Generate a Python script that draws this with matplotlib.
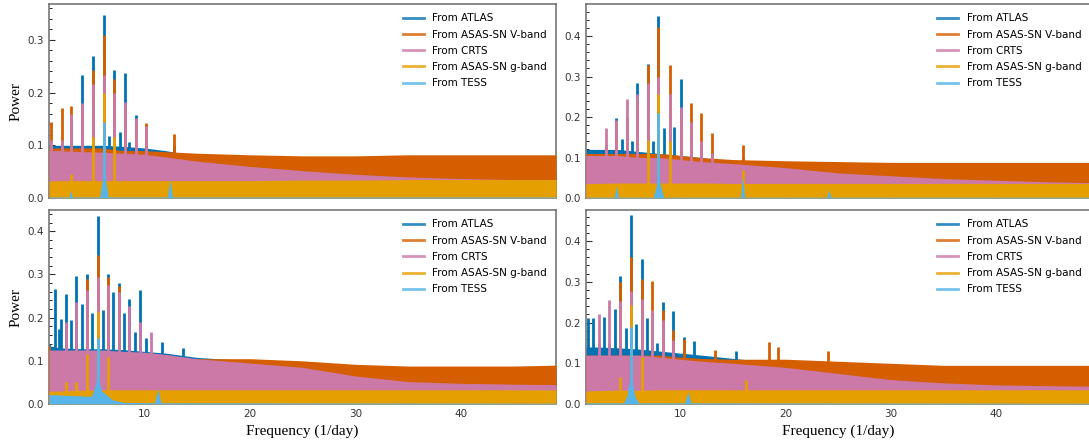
import numpy as np
import matplotlib.pyplot as plt
from matplotlib.lines import Line2D
from matplotlib.ticker import AutoMinorLocator, MultipleLocator

labels = ['From ATLAS', 'From ASAS-SN V-band', 'From CRTS', 'From ASAS-SN g-band', 'From TESS']
colors = ['#0072B2', '#D55E00', '#CC79A7', '#E69F00', '#56B4E9']

freq_grid = [1, 2, 4, 6, 8, 10, 12, 15, 20, 25, 30, 35, 40, 45, 49]

# ---- top left ----
a_atlas = [0.10, 0.10, 0.10, 0.10, 0.098, 0.095, 0.09, 0.08, 0.07, 0.06, 0.05, 0.05, 0.05, 0.05, 0.05]
a_vband = [0.095, 0.095, 0.095, 0.095, 0.09, 0.09, 0.088, 0.085, 0.082, 0.08, 0.08, 0.082, 0.082, 0.082, 0.082]
a_crts = [0.09, 0.09, 0.088, 0.087, 0.085, 0.083, 0.078, 0.07, 0.06, 0.052, 0.045, 0.04, 0.037, 0.035, 0.035]
a_gband = [0.032, 0.033, 0.033, 0.033, 0.033, 0.033, 0.033, 0.033, 0.033, 0.034, 0.034, 0.035, 0.035, 0.035, 0.035]
a_tess_f = [1, 2.9, 3.05, 3.2, 5.8, 6.05, 6.2, 6.35, 6.6, 12.2, 12.45, 12.7, 49]
a_tess_p = [0.002, 0.002, 0.015, 0.002, 0.002, 0.035, 0.06, 0.035, 0.002, 0.002, 0.035, 0.002, 0.002]
a_peak_f = [1.15, 2.2, 3.1, 4.1, 5.15, 6.2, 6.7, 7.2, 7.7, 8.2, 8.6, 9.2, 10.2, 12.8]
a_peak_atlas = [0.10, 0.10, 0.10, 0.233, 0.27, 0.347, 0.118, 0.243, 0.126, 0.238, 0.107, 0.157, 0.10, 0.10]
a_peak_vband = [0.145, 0.17, 0.175, 0.17, 0.242, 0.309, 0, 0.225, 0, 0.17, 0, 0.14, 0.143, 0.121]
a_peak_crts = [0.11, 0.11, 0.16, 0.18, 0.216, 0.233, 0, 0.20, 0, 0.183, 0, 0.151, 0.137, 0]
a_peak_gband = [0, 0, 0.045, 0, 0.116, 0.20, 0, 0.116, 0, 0, 0, 0, 0, 0]
a_peak_tess = [0, 0, 0, 0, 0, 0.145, 0, 0, 0, 0, 0, 0, 0, 0]

# ---- top right ----
b_atlas = [0.12, 0.12, 0.12, 0.115, 0.11, 0.105, 0.10, 0.09, 0.08, 0.07, 0.06, 0.06, 0.06, 0.06, 0.06]
b_vband = [0.11, 0.11, 0.11, 0.11, 0.11, 0.105, 0.10, 0.095, 0.092, 0.09, 0.088, 0.088, 0.088, 0.088, 0.088]
b_crts = [0.105, 0.105, 0.105, 0.10, 0.10, 0.095, 0.09, 0.085, 0.075, 0.062, 0.055, 0.048, 0.044, 0.04, 0.038]
b_gband = [0.035, 0.036, 0.037, 0.037, 0.037, 0.037, 0.037, 0.036, 0.036, 0.036, 0.036, 0.036, 0.036, 0.036, 0.036]
b_tess_f = [1, 3.7, 3.9, 4.1, 7.4, 7.7, 7.9, 8.1, 8.4, 15.7, 15.9, 16.1, 23.9, 24.1, 24.3, 49]
b_tess_p = [0.002, 0.002, 0.03, 0.002, 0.002, 0.03, 0.06, 0.03, 0.002, 0.002, 0.053, 0.002, 0.002, 0.02, 0.002, 0.002]
b_peak_f = [2.9, 3.9, 4.4, 4.9, 5.4, 5.9, 6.9, 7.4, 7.9, 8.4, 9.0, 9.4, 10.0, 10.95, 11.95, 13.0, 15.9]
b_peak_atlas = [0.13, 0.198, 0.145, 0.14, 0.14, 0.283, 0.331, 0.14, 0.449, 0.174, 0.14, 0.175, 0.294, 0.12, 0.12, 0.11, 0.10]
b_peak_vband = [0.13, 0.19, 0, 0.20, 0, 0.24, 0.328, 0, 0.423, 0, 0.328, 0, 0.20, 0.235, 0.211, 0.161, 0.13]
b_peak_crts = [0.172, 0.193, 0, 0.245, 0, 0.256, 0.285, 0, 0.30, 0, 0.258, 0, 0.224, 0.188, 0.14, 0.11, 0]
b_peak_gband = [0, 0, 0, 0, 0, 0, 0.143, 0, 0.256, 0, 0.14, 0, 0, 0, 0, 0, 0.07]
b_peak_tess = [0, 0, 0, 0, 0, 0, 0, 0, 0.21, 0, 0, 0, 0, 0, 0, 0, 0]

# ---- bottom left ----
c_atlas = [0.135, 0.13, 0.128, 0.128, 0.126, 0.122, 0.118, 0.108, 0.10, 0.09, 0.08, 0.07, 0.07, 0.07, 0.07]
c_vband = [0.11, 0.11, 0.11, 0.11, 0.11, 0.11, 0.108, 0.105, 0.105, 0.10, 0.092, 0.088, 0.088, 0.088, 0.09]
c_crts = [0.125, 0.125, 0.125, 0.125, 0.122, 0.12, 0.115, 0.105, 0.095, 0.085, 0.065, 0.052, 0.048, 0.046, 0.045]
c_gband = [0.03, 0.03, 0.032, 0.033, 0.033, 0.033, 0.033, 0.033, 0.033, 0.033, 0.033, 0.033, 0.033, 0.033, 0.033]
c_tess_f = [1, 3, 5, 5.2, 5.45, 5.6, 5.75, 6.0, 7, 8, 11.0, 11.3, 11.6, 49]
c_tess_p = [0.022, 0.02, 0.018, 0.03, 0.05, 0.08, 0.05, 0.03, 0.01, 0.004, 0.003, 0.035, 0.003, 0.002]
c_peak_f = [1.0, 1.6, 1.95, 2.1, 2.6, 3.1, 3.6, 4.1, 4.6, 5.1, 5.6, 6.1, 6.6, 7.1, 7.6, 8.1, 8.6, 9.1, 9.6, 10.15, 10.65, 11.7, 13.7]
c_peak_atlas = [0.14, 0.266, 0.173, 0.196, 0.254, 0.194, 0.297, 0.232, 0.302, 0.21, 0.435, 0.217, 0.302, 0.26, 0.281, 0.211, 0.243, 0.167, 0.264, 0.153, 0.12, 0.143, 0.129]
c_peak_vband = [0.135, 0, 0, 0, 0, 0, 0, 0, 0.289, 0, 0.346, 0, 0.294, 0, 0.273, 0, 0, 0, 0, 0, 0, 0, 0]
c_peak_crts = [0, 0, 0, 0, 0.19, 0, 0.237, 0, 0.264, 0, 0.294, 0, 0.275, 0, 0.26, 0, 0.228, 0, 0.189, 0, 0.166, 0, 0]
c_peak_gband = [0, 0, 0, 0, 0.05, 0, 0.05, 0, 0.115, 0, 0.212, 0, 0.11, 0, 0, 0, 0, 0, 0, 0, 0, 0, 0]
c_peak_tess = [0, 0, 0, 0, 0, 0, 0, 0, 0, 0, 0.152, 0, 0, 0, 0, 0, 0, 0, 0, 0, 0, 0, 0]

# ---- bottom right ----
d_atlas = [0.14, 0.14, 0.138, 0.135, 0.13, 0.125, 0.12, 0.112, 0.10, 0.09, 0.08, 0.075, 0.075, 0.075, 0.075]
d_vband = [0.12, 0.12, 0.12, 0.12, 0.12, 0.115, 0.112, 0.11, 0.11, 0.105, 0.10, 0.095, 0.095, 0.095, 0.095]
d_crts = [0.12, 0.12, 0.12, 0.12, 0.115, 0.11, 0.105, 0.10, 0.09, 0.075, 0.06, 0.052, 0.047, 0.045, 0.044]
d_gband = [0.032, 0.033, 0.034, 0.034, 0.035, 0.035, 0.035, 0.035, 0.035, 0.035, 0.035, 0.035, 0.035, 0.035, 0.035]
d_tess_f = [1, 4.6, 4.9, 5.1, 5.27, 5.45, 5.65, 6.0, 10.4, 10.7, 11.0, 49]
d_tess_p = [0.003, 0.003, 0.02, 0.05, 0.08, 0.05, 0.02, 0.003, 0.003, 0.03, 0.003, 0.002]
d_peak_f = [1.24, 1.71, 2.26, 2.76, 3.24, 3.78, 4.26, 4.8, 5.27, 5.78, 6.29, 6.8, 7.3, 7.8, 8.3, 9.33, 10.3, 11.3, 13.3, 15.3, 16.2, 18.4, 19.3, 24.0]
d_peak_atlas = [0.21, 0.21, 0.15, 0.213, 0.15, 0.233, 0.315, 0.186, 0.464, 0.196, 0.355, 0.21, 0.15, 0.15, 0.251, 0.228, 0.165, 0.155, 0.12, 0.13, 0.10, 0.10, 0.10, 0.10]
d_peak_vband = [0, 0, 0, 0, 0, 0, 0.30, 0, 0.361, 0, 0.307, 0, 0.303, 0, 0.231, 0.182, 0.16, 0, 0.132, 0, 0, 0.153, 0.14, 0.13]
d_peak_crts = [0, 0, 0.222, 0, 0.255, 0, 0.253, 0, 0.277, 0, 0.257, 0, 0.231, 0, 0.206, 0.157, 0, 0, 0, 0, 0, 0, 0, 0]
d_peak_gband = [0, 0, 0, 0, 0, 0, 0.067, 0, 0.243, 0, 0.116, 0, 0, 0, 0, 0, 0, 0, 0, 0, 0.06, 0, 0, 0]
d_peak_tess = [0, 0, 0, 0, 0, 0, 0, 0, 0.19, 0, 0, 0, 0, 0, 0, 0, 0, 0, 0, 0, 0, 0, 0, 0]

panels = [
    ([a_atlas, a_vband, a_crts, a_gband], a_tess_f, a_tess_p, a_peak_f,
     [a_peak_atlas, a_peak_vband, a_peak_crts, a_peak_gband, a_peak_tess], 0.368),
    ([b_atlas, b_vband, b_crts, b_gband], b_tess_f, b_tess_p, b_peak_f,
     [b_peak_atlas, b_peak_vband, b_peak_crts, b_peak_gband, b_peak_tess], 0.479),
    ([c_atlas, c_vband, c_crts, c_gband], c_tess_f, c_tess_p, c_peak_f,
     [c_peak_atlas, c_peak_vband, c_peak_crts, c_peak_gband, c_peak_tess], 0.449),
    ([d_atlas, d_vband, d_crts, d_gband], d_tess_f, d_tess_p, d_peak_f,
     [d_peak_atlas, d_peak_vband, d_peak_crts, d_peak_gband, d_peak_tess], 0.476),
]

rects = [
    [0.045, 0.555, 0.4656, 0.436],
    [0.538, 0.555, 0.4635, 0.436],
    [0.045, 0.092, 0.4656, 0.436],
    [0.538, 0.092, 0.4635, 0.436],
]

fig = plt.figure(figsize=(10.89, 4.45), dpi=100)

for k, (noise, tf, tp, pf, peaks, ytop) in enumerate(panels):
    ax = fig.add_axes(rects[k])
    for i in range(5):
        if i < 4:
            ax.fill_between(freq_grid, 0, noise[i], color=colors[i], lw=0, zorder=2 + i)
        else:
            ax.fill_between(tf, 0, tp, color=colors[i], lw=0, zorder=2 + i)
        f = [x for x, h in zip(pf, peaks[i]) if h > 0]
        h = [h for h in peaks[i] if h > 0]
        ax.vlines(f, 0, h, color=colors[i], lw=2, zorder=2 + i)

    ax.set_xlim(1, 49)
    ax.set_ylim(0, ytop)
    ax.xaxis.set_major_locator(MultipleLocator(10))
    ax.yaxis.set_major_locator(MultipleLocator(0.1))
    ax.yaxis.set_minor_locator(AutoMinorLocator(5))
    ax.tick_params(direction='in', labelsize=7.5, length=4, colors='#333333')
    ax.tick_params(which='minor', direction='in', length=2)
    for s in ax.spines.values():
        s.set_color('#777777')
        s.set_linewidth(1.2)
    if k < 2:
        ax.tick_params(labelbottom=False)
    else:
        ax.set_xlabel('Frequency (1/day)', family='Liberation Serif', fontsize=11)
    if k % 2 == 0:
        ax.set_ylabel('Power', family='Liberation Serif', fontsize=11)

    handles = [Line2D([], [], color=c, lw=2, alpha=0.8) for c in colors]
    ax.legend(handles, labels, loc='upper right', frameon=False, fontsize=7.5,
              labelspacing=0.6)

plt.savefig('out.png', dpi=100)
plt.close()
